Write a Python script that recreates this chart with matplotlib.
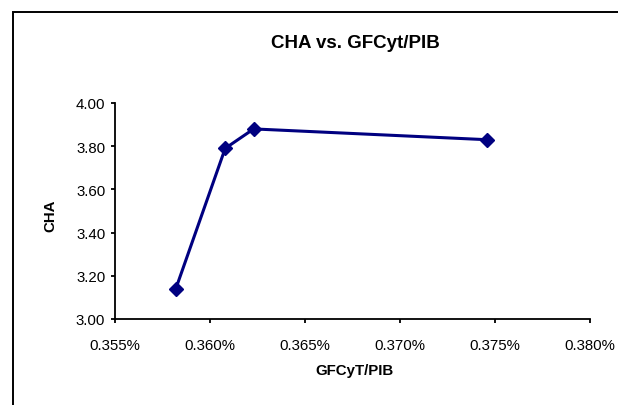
import matplotlib
matplotlib.use("Agg")
import matplotlib.pyplot as plt
from matplotlib.patches import Rectangle
from matplotlib.ticker import FuncFormatter

plt.rcParams['font.family'] = ['Liberation Sans', 'DejaVu Sans']

# GFCyT / PIB ratio (in percent) and CHA values
gfcyt_pib = [0.3582, 0.3608, 0.3623, 0.3746]
cha = [3.14, 3.79, 3.88, 3.83]

x_ticks = [0.355, 0.360, 0.365, 0.370, 0.375, 0.380]
y_ticks = [3.00, 3.20, 3.40, 3.60, 3.80, 4.00]

W, H = 618, 406
fig = plt.figure(figsize=(W / 100, H / 100), dpi=100)

# chart-area frame (extends past the right and bottom edges)
fig.patches.append(Rectangle((12.5 / W, -0.05), 1.2, 1 - 12.5 / H + 0.05,
                             transform=fig.transFigure, fill=False,
                             edgecolor='black', linewidth=1.4))

ax = fig.add_axes([115 / W, 1 - 320 / H, (590 - 115) / W, (320 - 104) / H])
ax.plot(gfcyt_pib, cha, color='#000080', linewidth=2.2, marker='D',
        markersize=7, markerfacecolor='#000080', markeredgecolor='#000080',
        clip_on=False, zorder=3)

ax.set_xlim(x_ticks[0], x_ticks[-1])
ax.set_ylim(y_ticks[0], y_ticks[-1])
ax.set_xticks(x_ticks)
ax.set_yticks(y_ticks)
ax.xaxis.set_major_formatter(FuncFormatter(lambda v, p: f"{v:.3f}%"))
ax.yaxis.set_major_formatter(FuncFormatter(lambda v, p: f"{v:.2f}"))

for side in ('top', 'right'):
    ax.spines[side].set_visible(False)
for side in ('left', 'bottom'):
    ax.spines[side].set_linewidth(1.3)
ax.tick_params(axis='both', direction='out', length=3, width=1.3,
               labelsize=10.8, colors='black')
ax.tick_params(axis='x', pad=11)
ax.tick_params(axis='y', pad=4)

fig.text(355 / W, 1 - 43 / H, 'CHA vs. GFCyt/PIB', ha='center', va='center',
         fontsize=13.5, fontweight='bold')
fig.text(355 / W, 1 - 371 / H, 'GFCyT/PIB', ha='center', va='center',
         fontsize=10.8, fontweight='bold')
fig.text(50 / W, 1 - 216 / H, 'CHA', ha='center', va='center', rotation=90,
         fontsize=10.8, fontweight='bold')

fig.savefig('out.png', dpi=100, facecolor='white')
